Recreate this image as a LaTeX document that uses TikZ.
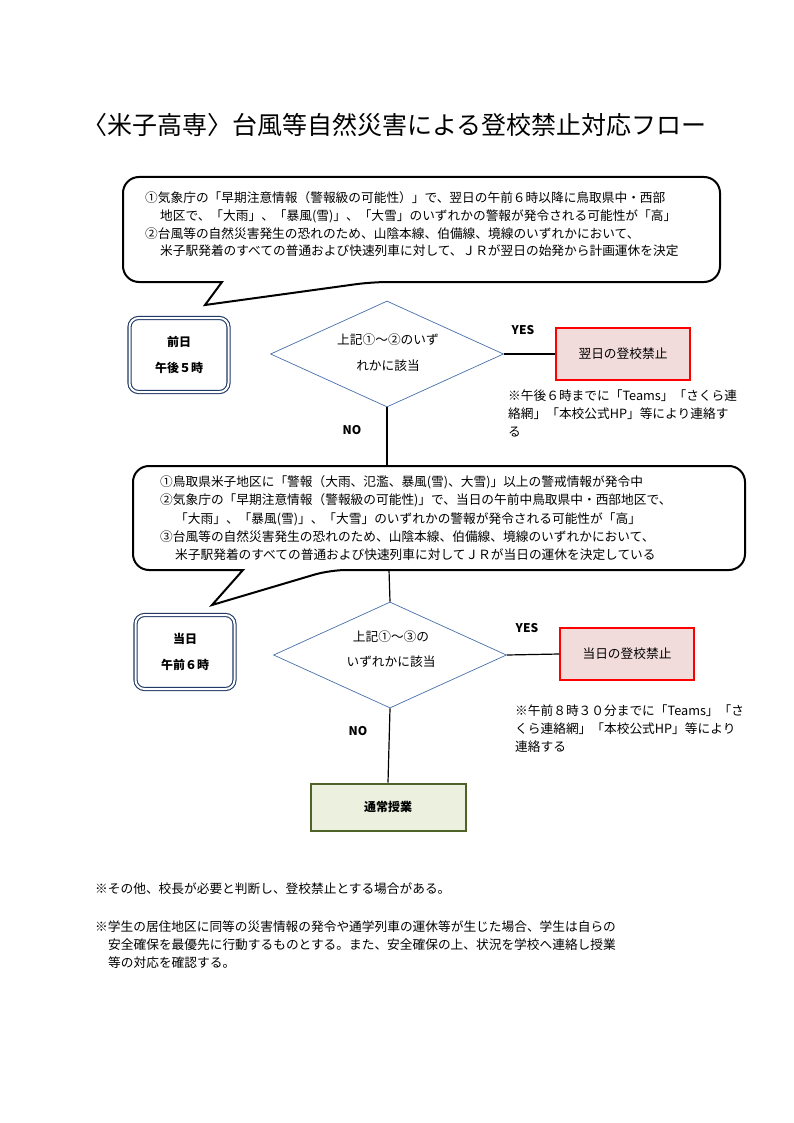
\documentclass[tikz,border=0pt]{standalone}
\usepackage{fontspec}
\setmainfont{Noto Sans CJK JP}
\usetikzlibrary{shapes.geometric}
\begin{document}
\begin{tikzpicture}[x=1pt,y=-1pt,
        line/.style={draw=black, line width=1.2pt},
        bubble/.style={draw=black, line width=2pt, rounded corners=16},
        txt/.style={anchor=west, inner sep=0pt, font=\fontsize{12.7}{14}\selectfont},
        lbl/.style={inner sep=0pt, font=\bfseries\fontsize{12}{14}\selectfont},
        decide/.style={diamond, draw={rgb,255:red,70;green,110;blue,170}, line width=0.7pt,
                       minimum width=233pt, minimum height=106pt, inner sep=0pt},
        stop/.style={draw=red, fill={rgb,255:red,242;green,220;blue,219}, line width=1.5pt,
                     minimum width=134pt, minimum height=52pt, inner sep=0pt,
                     font=\fontsize{12.7}{14}\selectfont},
        when/.style={draw={rgb,255:red,31;green,56;blue,100}, double=white, double distance=2pt,
                     line width=1.1pt, rounded corners=9, minimum width=99pt, minimum height=74pt,
                     align=center, font=\bfseries\fontsize{12}{26}\selectfont}
                            ]
        \useasboundingbox (0,0) rectangle (794,1123);
        % title
        \node[inner sep=0pt, anchor=west, font=\fontsize{25}{28}\selectfont] (title) at (82,125)
            {〈米子高専〉台風等自然災害による登校禁止対応フロー};
        % first bubble
        \draw[bubble] (222,282) -- (123,282) -- (123,177) -- (720,177) -- (720,282) -- (372,282)
            [sharp corners] -- (205,305) -- cycle;
        \node[txt] at (145,198) {①気象庁の「早期注意情報（警報級の可能性）」で、翌日の午前６時以降に鳥取県中・西部};
        \node[txt] at (160,216) {地区で、「大雨」、「暴風(雪)」、「大雪」のいずれかの警報が発令される可能性が「高」};
        \node[txt] at (145,234) {②台風等の自然災害発生の恐れのため、山陰本線、伯備線、境線のいずれかにおいて、};
        \node[txt] at (160,251) {米子駅発着のすべての普通および快速列車に対して、ＪＲが翌日の始発から計画運休を決定};
        % day before
        \node[when] (eve) at (179,355) {前日\\午後５時};
        \node[decide] (ask1) at (387,354) {};
        \node[txt, anchor=center] at (388,340) {上記①～②のいず};
        \node[txt, anchor=center] at (388,366) {れかに該当};
        \node[stop] (ban1) at (623,354) {翌日の登校禁止};
        \draw[line] (ask1.east) -- (ban1.west);
        \node[lbl] at (523,330) {YES};
        \node[txt] at (508,396) {※午後６時までに「Teams」「さくら連};
        \node[txt] at (508,414) {絡網」「本校公式HP」等により連絡す};
        \node[txt] at (508,432) {る};
        \node[lbl] at (352,430) {NO};
        % second bubble
        \coordinate (b2top) at (387,466);
        \coordinate (b2bot) at (389,570);
        \draw[line] (ask1.south) -- (b2top);
        \draw[bubble] (243,570) -- (133,570) -- (133,466) -- (745,466) -- (745,570) -- (330,570)
            [sharp corners] -- (212,605) -- cycle;
        \node[txt] at (160,482) {①鳥取県米子地区に「警報（大雨、氾濫、暴風(雪)、大雪)」以上の警戒情報が発令中};
        \node[txt] at (160,500) {②気象庁の「早期注意情報（警報級の可能性)」で、当日の午前中鳥取県中・西部地区で、};
        \node[txt] at (175,519) {「大雨」、「暴風(雪)」、「大雪」のいずれかの警報が発令される可能性が「高」};
        \node[txt] at (160,537) {③台風等の自然災害発生の恐れのため、山陰本線、伯備線、境線のいずれかにおいて、};
        \node[txt] at (175,555) {米子駅発着のすべての普通および快速列車に対してＪＲが当日の運休を決定している};
        % same day
        \node[when] (morn) at (185,652) {当日\\午前６時};
        \node[decide] (ask2) at (390,655) {};
        \draw[line] (b2bot) -- (ask2.north);
        \node[txt, anchor=center] at (391,637) {上記①～③の};
        \node[txt, anchor=center] at (391,662) {いずれかに該当};
        \node[stop] (ban2) at (627,654) {当日の登校禁止};
        \draw[line] (ask2.east) -- (ban2.west);
        \node[lbl] at (527,628) {YES};
        \node[txt] at (515,711) {※午前８時３０分までに「Teams」「さ};
        \node[txt] at (515,729) {くら連絡網」「本校公式HP」等により};
        \node[txt] at (515,747) {連絡する};
        \node[lbl] at (358,731) {NO};
        \node[draw={rgb,255:red,79;green,98;blue,40}, fill={rgb,255:red,235;green,241;blue,222},
              line width=2pt, minimum width=155pt, minimum height=47pt,
              font=\bfseries\fontsize{12}{14}\selectfont] (normal) at (388,807) {通常授業};
        \draw[line] (ask2.south) -- (normal.north);
        % notes
        \node[txt] at (95,889) {※その他、校長が必要と判断し、登校禁止とする場合がある。};
        \node[txt] at (95,927) {※学生の居住地区に同等の災害情報の発令や通学列車の運休等が生じた場合、学生は自らの};
        \node[txt] at (108,945) {安全確保を最優先に行動するものとする。また、安全確保の上、状況を学校へ連絡し授業};
        \node[txt] at (108,963) {等の対応を確認する。};
    \end{tikzpicture}
\end{document}
